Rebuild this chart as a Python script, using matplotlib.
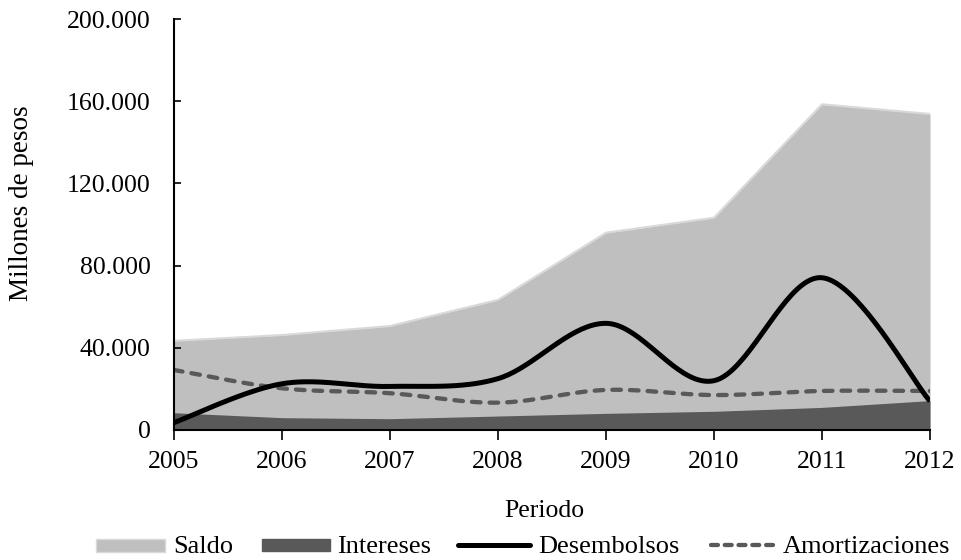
import numpy as np
import matplotlib
matplotlib.use("Agg")
import matplotlib.pyplot as plt
from matplotlib.patches import Rectangle
from matplotlib.lines import Line2D
from matplotlib.ticker import FuncFormatter

plt.rcParams['font.family'] = ['Liberation Serif', 'DejaVu Serif']

years = [2005, 2006, 2007, 2008, 2009, 2010, 2011, 2012]
saldo = [43400, 46200, 50600, 63300, 96000, 103300, 158500, 153800]
intereses = [8400, 6000, 5500, 6800, 8100, 9100, 11000, 14300]
desembolsos = [3600, 22500, 21200, 25000, 51900, 24000, 74100, 14000]
amortizaciones = [29200, 20300, 17900, 13300, 19500, 17000, 19000, 19000]
y_ticks = [0, 40000, 80000, 120000, 160000, 200000]
labels = ['Saldo', 'Intereses', 'Desembolsos', 'Amortizaciones']


def smooth(x, y, n=40):
    # Catmull-Rom (Excel-like smoothed line) through the data points
    x = np.asarray(x, float)
    y = np.asarray(y, float)
    px = np.concatenate([[x[0]], x, [x[-1]]])
    py = np.concatenate([[y[0]], y, [y[-1]]])
    xs, ys = [], []
    t = np.linspace(0, 1, n)
    for i in range(1, len(px) - 2):
        p0, p1, p2, p3 = (np.array([px[j], py[j]]) for j in (i - 1, i, i + 1, i + 2))
        c1 = p1 + (p2 - p0) / 6
        c2 = p2 - (p3 - p1) / 6
        b = ((1 - t) ** 3)[:, None] * p1 + (3 * (1 - t) ** 2 * t)[:, None] * c1 \
            + (3 * (1 - t) * t ** 2)[:, None] * c2 + (t ** 3)[:, None] * p2
        xs.append(b[:, 0])
        ys.append(b[:, 1])
    return np.concatenate(xs), np.concatenate(ys)


W, H = 962, 560
fig = plt.figure(figsize=(W / 100, H / 100), dpi=100)
ax = fig.add_axes([174 / W, 1 - 430 / H, (930 - 174) / W, (430 - 19) / H])

C_SALDO, C_SALDO_EDGE, C_INT = '#BFBFBF', '#D9D9D9', '#595959'
dash = (2.0, 2.1)

ax.fill_between(years, 0, saldo, color=C_SALDO, lw=0, zorder=1)
ax.plot(years, saldo, color=C_SALDO_EDGE, lw=1.5, zorder=1.5)
ax.fill_between(years, 0, intereses, color=C_INT, lw=0, zorder=2)

xa, ya = smooth(years, amortizaciones)
ax.plot(xa, ya, color=C_INT, lw=3.1, dashes=dash, dash_capstyle='round', zorder=3)
xd, yd = smooth(years, desembolsos)
ax.plot(xd, yd, color='black', lw=3.6, solid_capstyle='butt', zorder=4)

ax.set_xlim(2005, 2012)
ax.set_ylim(0, 200000)
ax.set_yticks(y_ticks)
ax.set_xticks(years)
ax.yaxis.set_major_formatter(FuncFormatter(lambda v, p: f"{int(v):,}".replace(",", ".")))
ax.tick_params(axis='y', direction='in', length=5, width=1.2, pad=17, labelsize=18.5)
ax.tick_params(axis='x', direction='out', length=7, width=1.2, pad=8, labelsize=18.5)
for s in ['top', 'right']:
    ax.spines[s].set_visible(False)
for s in ['left', 'bottom']:
    ax.spines[s].set_linewidth(1.5)
    ax.spines[s].set_zorder(5)

fig.text(22 / W, 1 - 203 / H, 'Millones de pesos', rotation=90, ha='center', va='center', fontsize=19.5)
fig.text(544 / W, 1 - 517 / H, 'Periodo', ha='center', va='baseline', fontsize=18.5)

# manual legend (figure pixel positions)
ly = 545
base = 553
fig.add_artist(Rectangle((96 / W, 1 - (ly + 6.5) / H), 69 / W, 13 / H, facecolor=C_SALDO,
                         edgecolor=C_SALDO_EDGE, lw=1, transform=fig.transFigure))
fig.add_artist(Rectangle((262 / W, 1 - (ly + 6) / H), 68 / W, 12 / H, facecolor=C_INT,
                         edgecolor=C_INT, lw=1, transform=fig.transFigure))
fig.add_artist(Line2D([458 / W, 530 / W], [1 - ly / H, 1 - ly / H], color='black', lw=3.6,
                      solid_capstyle='round', transform=fig.transFigure))
fig.add_artist(Line2D([711 / W, 773 / W], [1 - ly / H, 1 - ly / H], color=C_INT, lw=3.1,
                      dashes=(1.6, 1.6), dash_capstyle='round', transform=fig.transFigure))
for x0, lab in zip([173, 337, 538, 783], labels):
    fig.text(x0 / W, 1 - base / H, lab, ha='left', va='baseline', fontsize=19)

fig.savefig('out.png', dpi=100)
